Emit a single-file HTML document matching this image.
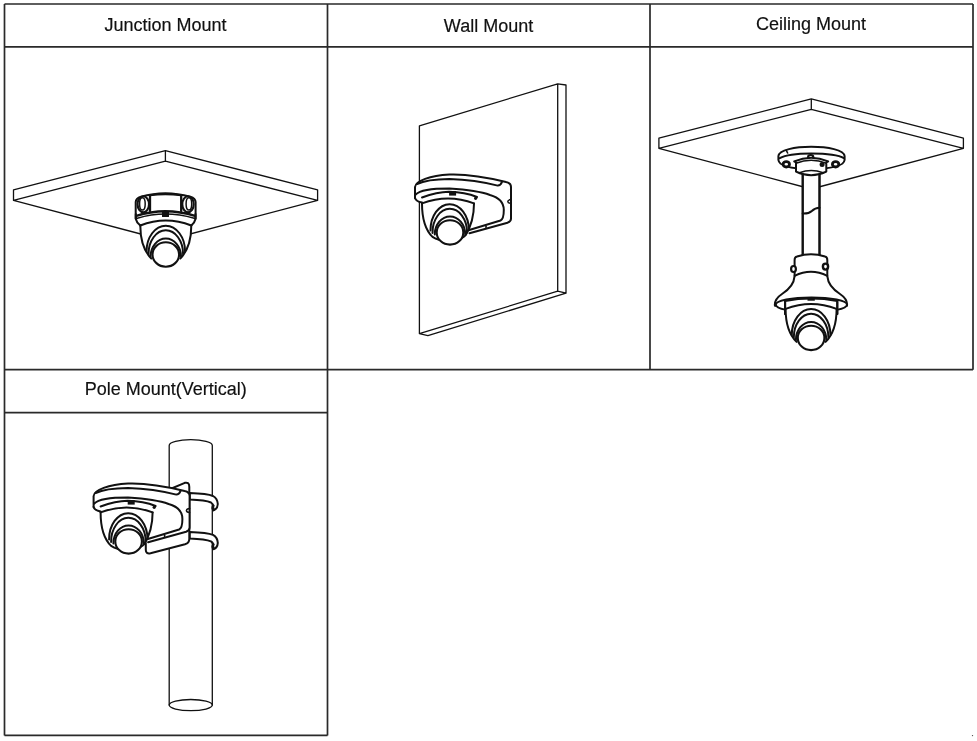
<!DOCTYPE html>
<html><head><meta charset="utf-8">
<style>
html,body{margin:0;padding:0;background:#fff;width:977px;height:741px;overflow:hidden}
svg{display:block;position:absolute;left:0;top:0;will-change:transform}
text{font-family:"Liberation Sans",sans-serif;font-size:18px;fill:#111;stroke:#111;stroke-width:0.18}
.t{stroke:#2a2a2a;stroke-width:1.7;fill:none}
.d{stroke:#111;stroke-width:1.3;fill:none;stroke-linejoin:round;stroke-linecap:round}
.c{stroke-width:2}
.w{fill:#fff}
.k{fill:#111;stroke:none}
</style></head><body>
<svg width="977" height="741" viewBox="0 0 977 741">
<defs>
<g id="dome" class="d c">
<path class="w" style="stroke:none" d="M-25.5 -29Q0 -39 25.5 -29C25.5 -15 21.5 -3 14.5 4L-14.5 4C-21.5 -3 -25.5 -15 -25.5 -29Z"/>
<path d="M-25.5 -29C-25.5 -15 -21.5 -3 -14.5 4M25.5 -29C25.5 -15 21.5 -3 14.5 4"/>
<path d="M-25.5 -29Q0 -39 25.5 -29"/>
<path d="M-19.3 -3A19.3 25.8 0 0 1 19.3 -3"/>
<path d="M-17.3 -0.5A17.3 23.7 0 0 1 17.3 -0.5"/>
<path d="M-15.2 2A15.2 18 0 0 1 15.2 2" style="stroke-width:2"/>
<ellipse class="w" rx="13.3" ry="12.2" style="stroke-width:2.1"/>
</g>
<g id="dome3" class="d c">
<path class="w" style="stroke:none" d="M-28 -29Q-2 -39 24 -29C24 -17 21 -6 15.5 3L12 5.5L-11 7.5L-17.5 4.5C-24 -2 -28 -13 -28 -29Z"/>
<path d="M-28 -29C-28 -13 -24 -2 -17.5 4.5Q-14.5 6.5 -11 7.5M24 -29C24 -17 21 -6 15.5 3Q14 4.5 12 5.5"/>
<path d="M-28 -29Q-2 -39 24 -29"/>
<path d="M-19.5 -2A19.2 26 0 0 1 18.9 -2.5"/>
<path d="M-17.5 0.5A17.3 23.8 0 0 1 17.1 0"/>
<path d="M-15.2 2A15.2 18 0 0 1 15.2 2" style="stroke-width:2"/>
<ellipse class="w" rx="13.3" ry="12.2" style="stroke-width:2.1"/>
</g>
</defs>
<!-- table -->
<g class="t">
<path d="M4.5 4H973M4.5 46.8H973M4.5 369.7H973M4.5 412.7H327.5M4.5 735.4H327.5"/>
<path d="M4.5 4V735.4M327.5 4V735.4M650 4V369.7M973 4V369.7"/>
</g>
<text x="165.5" y="31" text-anchor="middle">Junction Mount</text>
<text x="488.5" y="31.5" text-anchor="middle">Wall Mount</text>
<text x="811" y="29.5" text-anchor="middle">Ceiling Mount</text>
<text x="165.7" y="395.3" text-anchor="middle">Pole Mount(Vertical)</text>

<!-- junction slab -->
<g class="d">
<path d="M13.5 189.8L165.4 150.7L317.6 189.8V200.4L165.4 161.2L13.5 200.4Z M165.4 150.7V161.2 M13.5 200.4L165.4 240.5L317.6 200.4"/>
</g>
<!-- junction camera -->
<g class="d c">
<path class="w" d="M135.7 202Q135.8 198.5 141 196.8Q165.1 189.5 190.3 196.8Q195.5 198.5 195.6 202V218.5Q165.1 209 135.7 218.5Z"/>
<path d="M150 195.5V211M181.2 195.5V211" style="stroke-width:2.3"/>
<path d="M150 195.3Q165.1 193 181.2 195.3"/>
<ellipse cx="143.3" cy="204.3" rx="5.7" ry="8" style="stroke-width:2.1"/><ellipse cx="142.4" cy="203.9" rx="2.8" ry="6.2" style="stroke-width:1.5"/>
<ellipse cx="188" cy="204.3" rx="5.7" ry="8" style="stroke-width:2.1"/><ellipse cx="188.9" cy="203.9" rx="2.8" ry="6.2" style="stroke-width:1.5"/>
<path class="w" d="M136.4 215.9Q165.1 206.7 195 215.9L192.5 222Q165.1 216.5 138.8 222Z" style="stroke:none"/>
<path d="M136.4 215.9Q165.1 206.7 195 215.9" style="stroke-width:2.4"/>
<path d="M137.3 218.2Q165.1 209.8 194.2 218.2" style="stroke-width:1.5"/>
<path d="M135.8 214V219Q136.5 222.5 140.3 225.5M195.5 214V219Q194.8 222.5 191.3 225.5"/>
<rect class="k" x="162" y="211.5" width="7" height="5.6" rx="0.6"/>
</g>
<use href="#dome" x="165.8" y="254.5"/>

<!-- wall -->
<g class="d">
<path d="M419.4 125.9L557.7 83.8V291.2L419.4 333.6Z M557.7 83.8L566 85V293.2L427.9 335.6L419.4 333.6 M557.7 291.2L566 293.2"/>
</g>
<!-- wall camera -->
<g id="wcam">
<g class="d c">
<path class="w" style="stroke:none" d="M415 198V187C415.5 181 430 175.5 449.4 174.5C470 173.8 490 178 506 182Q511 183 511 187V218.5Q511 221.5 507.5 222.8L469.5 233.3L440 236L422 202.5Q416 201.5 415 198Z"/>
<path d="M415 198V187C415.5 181 430 175.5 449.4 174.5C470 173.8 490 178 506 182Q511 183 511 187V218.5Q511 221.5 507.5 222.8L469.5 233.3"/>
<path d="M417 184C425 180 440 179 449.4 178.9C470 179.5 486 182.5 497.8 185.6Q500.5 185.5 502 181.8"/>
<path d="M415.4 194.8C420 190 430 188.6 449.4 188.6C470 190 483 192.5 490 195C499 197.5 503.8 203 503.8 210Q503.8 219 500.5 220.5L467.6 230.5"/>
<path d="M486 226.2V227.8" style="stroke-width:1.5"/>
<path d="M511 199.5Q507.8 199.8 507.8 201.5Q507.8 203.2 511 203.5" style="stroke-width:1.5"/>
<path d="M415 198Q416 201.5 422 202.5"/>
<path d="M422 197.5Q437 192.1 449 191.8Q465 192 477 197"/>
<rect class="k" x="449.1" y="191" width="7" height="4.6"/>
<circle class="k" cx="475.6" cy="198.3" r="1.6"/>
</g>
<use href="#dome3" x="450" y="232.4"/>
</g>

<!-- ceiling slab -->
<g class="d">
<path d="M658.9 138.2L811.3 98.9L963.4 138.2V148.3L811.3 109.3L658.9 148.3Z M811.3 98.9V109.3 M658.9 148.3L811.3 189L963.4 148.3"/>
</g>
<!-- ceiling camera -->
<g class="d c">
<path class="w" d="M802.7 172V254.9H819.5V172Z"/>
<path d="M802.7 213.6C807.5 213.8 809.5 213.2 811.8 211C814 208.8 816 207.7 819.5 207.7" style="stroke-width:2"/>
<path class="w" d="M778.4 156C779 150 795 146.7 811.2 146.7C828 146.7 844 150 844.6 156V160C844 165.5 832 168.8 811 169.2C790 168.8 779 165.5 778.4 160Z" style="stroke-width:2"/>
<path d="M779.8 158.2C786 154.5 798 153.4 811.2 153.4C824 153.4 838 154.5 844 158.2"/>
<path d="M786.2 150.2L787.6 153" style="stroke-width:1.6"/>
<ellipse class="w" cx="786.3" cy="164.3" rx="3.2" ry="2.7" style="stroke-width:2.8"/><ellipse class="w" cx="835.6" cy="164.3" rx="3.2" ry="2.7" style="stroke-width:2.8"/><ellipse class="w" cx="810.7" cy="157.2" rx="2.6" ry="2.2" style="stroke-width:2.2"/>
<path class="w" d="M794.2 161.3Q811.2 154 828.2 161.3L826.3 162.5V171.6Q811.2 179 796 171.6V162.5Z" style="stroke-width:2"/>
<path d="M796 163.2Q811.2 157.5 826.3 163.2" style="stroke-width:1.5"/>
<path d="M799.5 172.8Q811.2 168.3 823 172.8" style="stroke-width:1.5"/>
<circle class="k" cx="822.1" cy="164.5" r="2.5"/>
<path d="M802.7 174V254.9M819.5 174V254.9"/>
<path class="w" d="M794.6 260Q794.6 257 797 256.5Q811 252 825 256.5Q827.3 257 827.3 260V276.2C828 284 832 289 840 294C846 298 847.5 302 847 305.7L774.9 305.7C774.5 302 776 298 782 294C790 289 794 284 794.6 276.2Z"/>
<path d="M794.6 275.8Q811 267.6 827.3 275.8"/>
<ellipse class="w" cx="811.4" cy="304.7" rx="35.6" ry="7.3"/>
<ellipse class="w" cx="793.5" cy="269" rx="2.4" ry="3" style="stroke-width:2.2"/><ellipse class="w" cx="825.5" cy="266.6" rx="2.6" ry="3" style="stroke-width:2.4"/>
<path class="w" d="M785.1 301Q811 296 837.3 301V314H785.1Z"/>
<path d="M785.1 301V314M837.3 301V314"/>
<rect class="k" x="807.5" y="297.5" width="7.3" height="3.2"/>
</g>
<use href="#dome" x="811.1" y="337.9"/>

<!-- pole -->
<g class="d">
<path class="w" d="M169.2 705.1V445.4A21.55 5.7 0 0 1 212.3 445.4V705.1"/>
<ellipse cx="190.75" cy="705.1" rx="21.55" ry="5.6"/>
</g>
<!-- pole straps & adapter -->
<g class="d c">
<path class="w" d="M189.7 493.1C200 493.5 208 494 213 496Q217.5 498.5 217.8 504Q217.5 509 213.5 510.2L213.2 507Q213.5 504 211 502.5C207 500.8 200 500 189.7 499.6Z"/>
<path class="w" d="M189.7 532C200 532.4 208 532.9 213 534.9Q217.5 537.4 217.8 542.9Q217.5 547.9 213.5 549.1L213.2 545.9Q213.5 542.9 211 541.4C207 539.7 200 538.9 189.7 538.5Z"/>
<path d="M213.5 505.5Q211.5 508 213.5 510.2M213.5 544.4Q211.5 546.9 213.5 549.1" style="stroke-width:2.2"/>
<path class="w" d="M168 490L184.8 482.8Q189.3 481.8 189.3 487V539Q189.3 543 185 544.3L150.5 553.3Q145.8 554.2 145.8 550V530L146 520Z"/>
<path d="M187 508.5V512.5"/>
</g>
<use href="#wcam" transform="translate(-321.4,309)"/>
<circle cx="972.5" cy="735.6" r="0.7" fill="#444"/>
</svg>
</body></html>
